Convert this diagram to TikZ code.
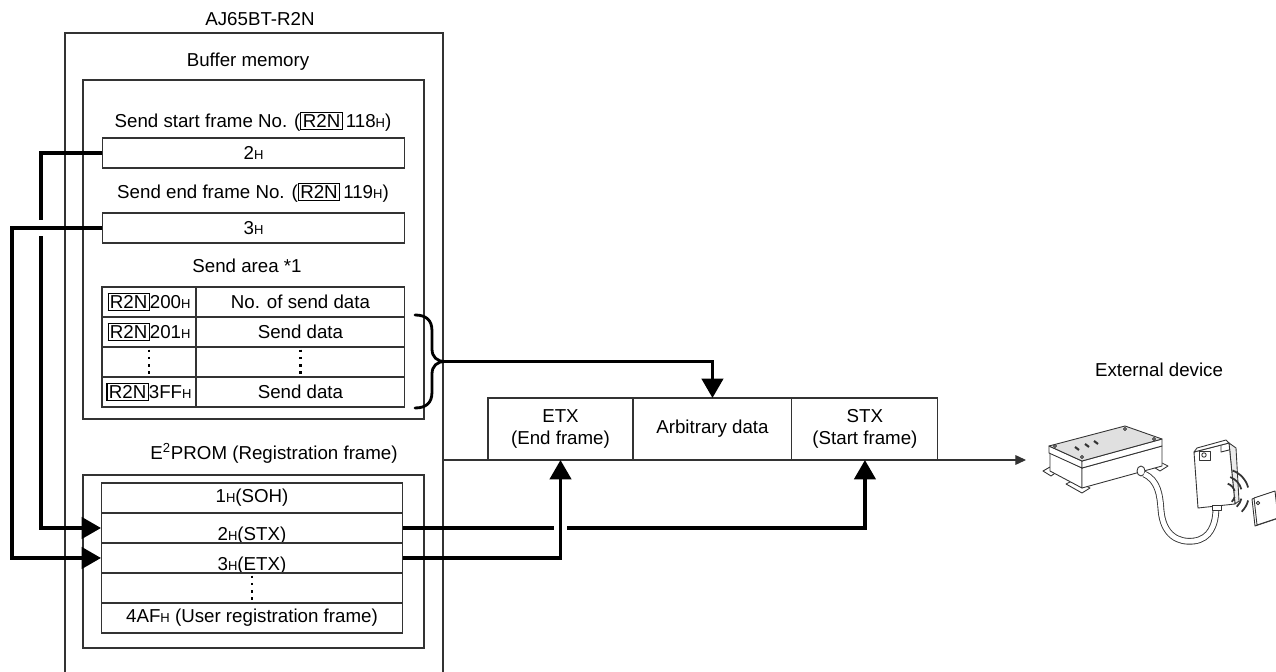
\documentclass[tikz,border=0pt]{standalone}
\usepackage{fontspec}
\setmainfont{Liberation Sans}
\usetikzlibrary{arrows.meta}
\usetikzlibrary{positioning}

% small H after hex numbers, boxed station name
\newcommand{\hsub}{{\fontsize{7.4}{8}\selectfont H}}
\newcommand{\rtwon}{{\setlength{\fboxsep}{0.8pt}\setlength{\fboxrule}{0.6pt}\fbox{R2N}}}

\tikzset{
    cell/.style={rectangle, draw=black!80, line width=0.6pt, inner sep=0pt, outer sep=0pt, minimum height=0.6cm, text centered},
    framecell/.style={cell, minimum height=1.24cm, align=center},
    area/.style={draw=black!80, line width=0.6pt},
    link/.style={line width=2.2pt, -{Triangle[length=11pt,width=12pt]}},
    gappatch/.style={fill=white},
    dotline/.style={line width=1.5pt, dash pattern=on 1.5pt off 2.6pt},
    outline/.style={draw=black!80, line width=0.5pt, line join=round},
}

\begin{document}
\begin{tikzpicture}[x=0.02cm, y=-0.02cm, font=\fontsize{10.65}{12.6}\selectfont]
    \useasboundingbox (0,0) rectangle (1276,672);

    % unit, buffer memory and E2PROM outlines
    \draw [area] (65,672) |- (443,33) -- (443,672);
    \draw [area] (83,80) rectangle (424,419);
    \draw [area] (83,475) rectangle (424,648);

    \node (unit) at (260,19) {AJ65BT-R2N};
    \node (buffer) at (248,62) {Buffer memory};
    \node (startlbl) at (253,122) {Send start frame No. (\rtwon\,118\hsub)};
    \node [cell, minimum width=6.06cm] (startbox) at (253.5,153) {2\hsub};
    \node (endlbl) at (253,193) {Send end frame No. (\rtwon\,119\hsub)};
    \node [cell, minimum width=6.06cm] (endbox) at (253.5,228) {3\hsub};
    \node (arealbl) at (247,266) {Send area *1};

    % send area table
    \node [cell, minimum width=1.88cm] (addr1) at (149,302) {\rtwon 200\hsub};
    \node [cell, minimum width=1.88cm, below=0pt of addr1] (addr2) {\rtwon 201\hsub};
    \node [cell, minimum width=1.88cm, below=0pt of addr2] (addr3) {};
    \node [cell, minimum width=1.88cm, below=0pt of addr3] (addr4) {\rtwon 3FF\hsub};
    \node [cell, minimum width=4.18cm, right=0pt of addr1] (data1) {No. of send data};
    \node [cell, minimum width=4.18cm, right=0pt of addr2] (data2) {Send data};
    \node [cell, minimum width=4.18cm, right=0pt of addr3] (data3) {};
    \node [cell, minimum width=4.18cm, right=0pt of addr4] (data4) {Send data};
    \draw [dotline] ([yshift=-1.5pt]addr3.north) -- ([yshift=1.5pt]addr3.south);
    \draw [dotline] ([yshift=-1.5pt]data3.north) -- ([yshift=1.5pt]data3.south);

    % registration frames
    \node (eeplbl) at (274,453) {E\textsuperscript{2}PROM (Registration frame)};
    \node [cell, minimum width=6.04cm] (soh) at (252,498) {1\hsub(SOH)};
    \node [cell, minimum width=6.04cm, text height=14pt, text depth=0pt, below=0pt of soh] (stx) {2\hsub(STX)};
    \node [cell, minimum width=6.04cm, text height=14pt, text depth=0pt, below=0pt of stx] (etx) {3\hsub(ETX)};
    \node [cell, minimum width=6.04cm, below=0pt of etx] (more) {};
    \node [cell, minimum width=6.04cm, below=0pt of more] (user) {4AF\hsub\ (User registration frame)};
    \draw [dotline] ([yshift=-1.5pt]more.north) -- ([yshift=1.5pt]more.south);

    % message as it is sent
    \node [framecell, minimum width=2.9cm] (etxf) at (560.5,429) {ETX\\(End frame)};
    \node [framecell, minimum width=3.18cm, right=0pt of etxf] (dataf) {Arbitrary data};
    \node [framecell, minimum width=2.92cm, right=0pt of dataf] (stxf) {STX\\(Start frame)};
    \node (devlbl) at (1159,370) {External device};

    \coordinate (busout) at (443,460);
    \coordinate (devin) at (1026,460);
    \draw [line width=0.6pt, draw=black!80, -{Triangle[length=6pt,width=5.5pt]}] (busout) -- (devin);

    % frame numbers pick the registration frames
    \draw [link] (startbox.west) -- ++(-61,0) |- (stx.west);
    \fill [gappatch] (35,220) rectangle (47,236);
    \draw [link] (endbox.west) -- ++(-90,0) |- (etx.west);

    \draw [link] (stx.east) -| (stxf.south);
    \fill [gappatch] (554,521) rectangle (567,535);
    \draw [link] (etx.east) -| (etxf.south);

    % send data brace
    \draw [line width=1.6pt, line cap=round] (415,315) .. controls (426,315) and (432,320) .. (432,331) -- (432,349)
        .. controls (432,357) and (437,361.5) .. (445,361.5) .. controls (437,361.5) and (432,366) .. (432,374)
        -- (432,392) .. controls (432,403) and (426,408) .. (415,408);
    \coordinate (bracetip) at (445,361.5);
    \draw [link] (bracetip) -| (dataf.north);

    % external device: controller
    \filldraw [outline, fill=white] (1043,471) -- (1050,467) -- (1058,471) -- (1051,476) -- cycle;
    \filldraw [outline, fill=white] (1066,484) -- (1074,480) -- (1090,488) -- (1082,493) -- cycle;
    \filldraw [outline, fill=white] (1152,466) -- (1160,462) -- (1168,466) -- (1160,471) -- cycle;
    \filldraw [outline, fill=white] (1050,452) -- (1082,468) -- (1082,488) -- (1050,471) -- cycle;
    \filldraw [outline, fill=white] (1082,468) -- (1162,446) -- (1162,466) -- (1082,488) -- cycle;
    \filldraw [outline, fill=white] (1049,446) -- (1082,461) -- (1082,468) -- (1049,453) -- cycle;
    \filldraw [outline, fill=white] (1082,461) -- (1162,439) -- (1162,446) -- (1082,468) -- cycle;
    \filldraw [outline, fill=black!12] (1049,446) -- (1125,426) -- (1162,439) -- (1082,461) -- cycle;
    \foreach \p in {(1055,446),(1125,429),(1154,439),(1082,457)}
        \draw [outline] \p circle (1.5);
    \draw [line width=1.2pt, black!80] (1075,447) -- (1079,450);
    \draw [line width=1.2pt, black!80] (1085,444) -- (1089,447);
    \draw [line width=1.2pt, black!80] (1094,441) -- (1098,444);
    \filldraw [outline, fill=white] (1141,471) ellipse [x radius=4, y radius=5];

    % cable and sensor head
    \draw [black!80, line width=0.5pt, double=white, double distance=2.8pt] (1144,474) .. controls (1158,480) and (1160,495) .. (1161,510)
        .. controls (1163,535) and (1178,543) .. (1194,541) .. controls (1210,539) and (1216,525) .. (1216,507);
    \filldraw [outline, fill=black!8] (1229,443) -- (1236,448) -- (1239,501) -- (1235,504) -- cycle;
    \filldraw [outline, fill=white] (1194,452) -- (1229,443) -- (1235,504) -- (1198,508) -- cycle;
    \filldraw [outline, fill=white] (1194,452) -- (1197,448) -- (1226,440) -- (1229,443) -- cycle;
    \draw [outline] (1199,451) rectangle (1210,460);
    \draw [outline] (1204,455) circle (2.2);
    \draw [outline] (1221,446) -- (1221,452) -- (1229,450);
    \filldraw [outline, fill=white] (1212,505) rectangle (1221,510);

    % waves and tag
    \foreach \r in {11,18,25} {
        \draw [line width=1pt, black!80] (1224,494) ++(-70:\r) arc [start angle=-70, end angle=-15, radius=\r];
        \draw [line width=1pt, black!80] (1224,494) ++(15:\r) arc [start angle=15, end angle=45, radius=\r];
    }
    \filldraw [outline, fill=white] (1252,499) -- (1273,492) -- (1276,519) -- (1255,526) -- cycle;
    \filldraw [outline, fill=white] (1254,498) -- (1275,491) -- (1278,518) -- (1257,525) -- cycle;
    \draw [outline] (1258,503) circle (1.8);
\end{tikzpicture}
\end{document}
